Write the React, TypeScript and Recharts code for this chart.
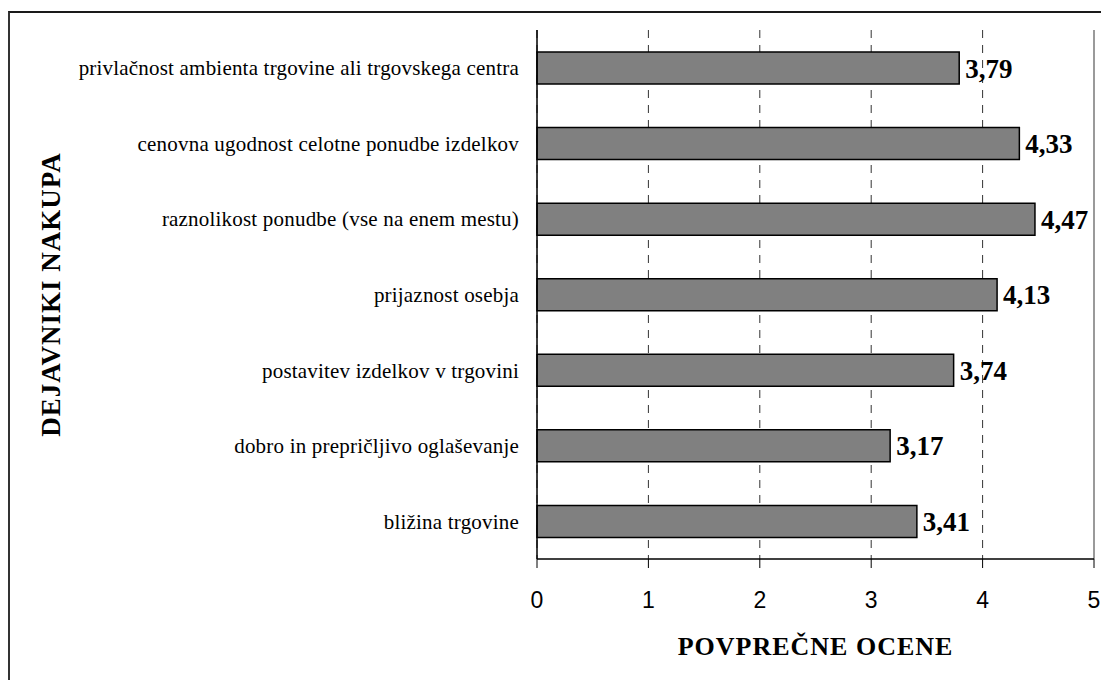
import { Bar, BarChart, CartesianGrid, LabelList, ReferenceLine, XAxis, YAxis } from "recharts"

const factors = [
  "privlačnost ambienta trgovine ali trgovskega centra",
  "cenovna ugodnost celotne ponudbe izdelkov",
  "raznolikost ponudbe (vse na enem mestu)",
  "prijaznost osebja",
  "postavitev izdelkov v trgovini",
  "dobro in prepričljivo oglaševanje",
  "bližina trgovine",
]

const scores = [3.79, 4.33, 4.47, 4.13, 3.74, 3.17, 3.41]

const xTicks = [0, 1, 2, 3, 4, 5]
// category boundaries for the short marks on the left axis
const boundaryTicks = [0, 1, 2, 3, 4, 5, 6, 7]

const data = factors.map((name, i) => ({ name, value: scores[i] }))

const SERIF = "'Liberation Serif', 'Times New Roman', serif"
const SANS = "'Liberation Sans', Arial, sans-serif"

export default function App() {
  return (
    <div style={{ position: "relative", width: 1101, height: 672 }}>
      <div
        style={{
          position: "absolute",
          left: 0,
          top: 3,
          width: 1101,
          height: 669,
          borderTop: "2px solid #1a1a1a",
          borderLeft: "2px solid #333",
        }}
      />
      <BarChart
        width={1101}
        height={672}
        data={data}
        layout="vertical"
        margin={{ top: 22, right: 15, bottom: 0, left: 0 }}
      >
        <CartesianGrid horizontal={false} stroke="#333" strokeDasharray="8 7" />
        <XAxis
          type="number"
          domain={[0, 5]}
          ticks={xTicks}
          height={121}
          axisLine={{ stroke: "#000", strokeWidth: 1.5 }}
          tickLine={{ stroke: "#000" }}
          tickSize={9}
          tickMargin={24}
          tick={{ fill: "#000", fontFamily: SANS, fontSize: 23 }}
          label={{
            value: "POVPREČNE OCENE",
            position: "insideBottom",
            offset: 25,
            fill: "#000",
            fontFamily: SERIF,
            fontSize: 26,
            fontWeight: "bold",
            letterSpacing: 1,
          }}
        />
        <YAxis
          type="category"
          dataKey="name"
          width={529}
          axisLine={{ stroke: "#000", strokeWidth: 1.5 }}
          tickLine={false}
          tickSize={0}
          tickMargin={18}
          interval={0}
          tick={{ fill: "#000", fontFamily: SERIF, fontSize: 21, letterSpacing: 0.2 }}
          label={{
            value: "DEJAVNIKI NAKUPA",
            angle: -90,
            position: "insideLeft",
            offset: 42,
            fill: "#000",
            fontFamily: SERIF,
            fontSize: 27,
            fontWeight: "bold",
            letterSpacing: 1,
            style: { textAnchor: "middle" },
          }}
        />
        <YAxis
          yAxisId="bounds"
          type="number"
          domain={[0, 7]}
          ticks={boundaryTicks}
          interval={0}
          width={0}
          axisLine={false}
          tickLine={{ stroke: "#000" }}
          tickSize={9}
          tick={false}
        />
        <ReferenceLine x={5} stroke="#9a9a9a" strokeWidth={2} />
        <ReferenceLine yAxisId="bounds" y={7} stroke="#9a9a9a" strokeWidth={2} />
        <Bar dataKey="value" fill="#808080" stroke="#000" strokeWidth={1.5} barSize={32} isAnimationActive={false}>
          <LabelList
            dataKey="value"
            position="right"
            offset={6}
            formatter={(v: number) => v.toFixed(2).replace(".", ",")}
            fill="#000"
            fontFamily={SERIF}
            fontSize={27}
            fontWeight="bold"
          />
        </Bar>
      </BarChart>
    </div>
  )
}
